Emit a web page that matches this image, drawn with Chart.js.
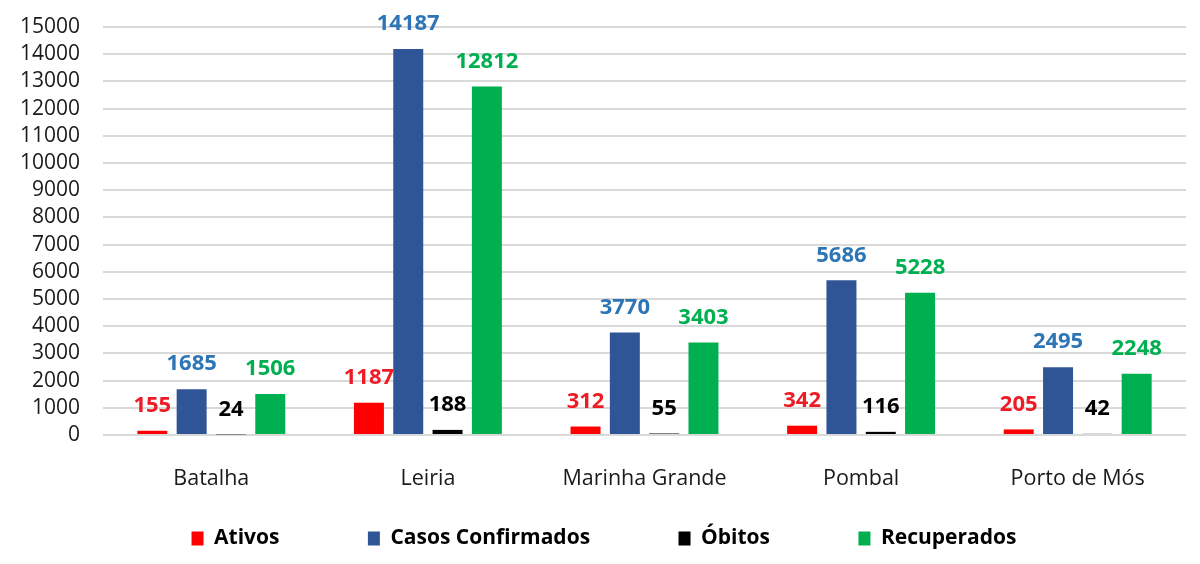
<!DOCTYPE html>
<html>
<head>
<meta charset="utf-8">
<script src="https://cdn.jsdelivr.net/npm/chart.js@4"></script>
<style>
  html, body { margin: 0; padding: 0; background: #ffffff; }
  #wrap { width: 1200px; height: 564px; position: relative; }
</style>
</head>
<body>
<div id="wrap"><canvas id="c" width="1200" height="564"></canvas></div>
<script>
const categories = ['Batalha', 'Leiria', 'Marinha Grande', 'Pombal', 'Porto de Mós'];
const seriesNames = ['Ativos', 'Casos Confirmados', 'Óbitos', 'Recuperados'];
const ativos = [155, 1187, 312, 342, 205];
const casosConfirmados = [1685, 14187, 3770, 5686, 2495];
const obitos = [24, 188, 55, 116, 42];
const recuperados = [1506, 12812, 3403, 5228, 2248];
const yTicks = [0, 1000, 2000, 3000, 4000, 5000, 6000, 7000, 8000, 9000, 10000, 11000, 12000, 13000, 14000, 15000];

const barColors = ['#FF0000', '#2F5597', '#000000', '#00B050'];
const labelColors = ['#EE1C25', '#2E75B6', '#000000', '#00B050'];
const FONT = '"Open Sans", "Noto Sans", sans-serif';

const seriesValues = [ativos, casosConfirmados, obitos, recuperados];

const dataLabels = {
  id: 'dataLabels',
  afterDatasetsDraw(chart) {
    const ctx = chart.ctx;
    ctx.save();
    ctx.font = 'bold 22px ' + FONT;
    ctx.textAlign = 'center';
    ctx.textBaseline = 'middle';
    chart.data.datasets.forEach((ds, i) => {
      const meta = chart.getDatasetMeta(i);
      ctx.fillStyle = labelColors[i];
      meta.data.forEach((bar, j) => {
        ctx.fillText(String(ds.data[j]), bar.x, bar.y - 25);
      });
    });
    ctx.restore();
  }
};

new Chart(document.getElementById('c'), {
  type: 'bar',
  data: {
    labels: categories,
    datasets: seriesNames.map((name, i) => ({
      label: name,
      data: seriesValues[i],
      backgroundColor: barColors[i],
      borderWidth: 0,
      categoryPercentage: 0.726,
      barPercentage: 0.763
    }))
  },
  options: {
    responsive: false,
    animation: false,
    layout: { padding: { left: 22, right: 14, top: 27, bottom: 5 } },
    plugins: {
      tooltip: { enabled: false },
      legend: {
        position: 'bottom',
        align: 'center',
        labels: {
          boxWidth: 12,
          boxHeight: 14,
          padding: 20,
          color: '#000000',
          font: { family: FONT, size: 21, weight: 'bold' },
          generateLabels(chart) {
            const items = Chart.defaults.plugins.legend.labels.generateLabels(chart);
            return items.map((it, i) => Object.assign(it, {
              text: i < items.length - 1 ? it.text + '\u2003\u2003\u2003 ' : it.text,
              lineWidth: 0
            }));
          }
        }
      }
    },
    scales: {
      x: {
        grid: { display: false },
        border: { display: false },
        ticks: { color: '#1a1a1a', padding: 23, font: { family: FONT, size: 21.5 } },
        afterFit(scale) { scale.height = 73; }
      },
      y: {
        min: 0,
        max: 15000,
        afterBuildTicks(scale) { scale.ticks = yTicks.map(v => ({ value: v })); },
        grid: { color: '#d9d9d9', lineWidth: 2, drawTicks: false },
        border: { display: false },
        ticks: {
          color: '#1a1a1a',
          padding: 23,
          autoSkip: false,
          font: { family: FONT, size: 21 },
          callback: (v) => String(v)
        },
        afterFit(scale) { scale.width = 81; scale.paddingTop = 13; scale.paddingBottom = 13; }
      }
    }
  },
  plugins: [dataLabels]
});
</script>
</body>
</html>
